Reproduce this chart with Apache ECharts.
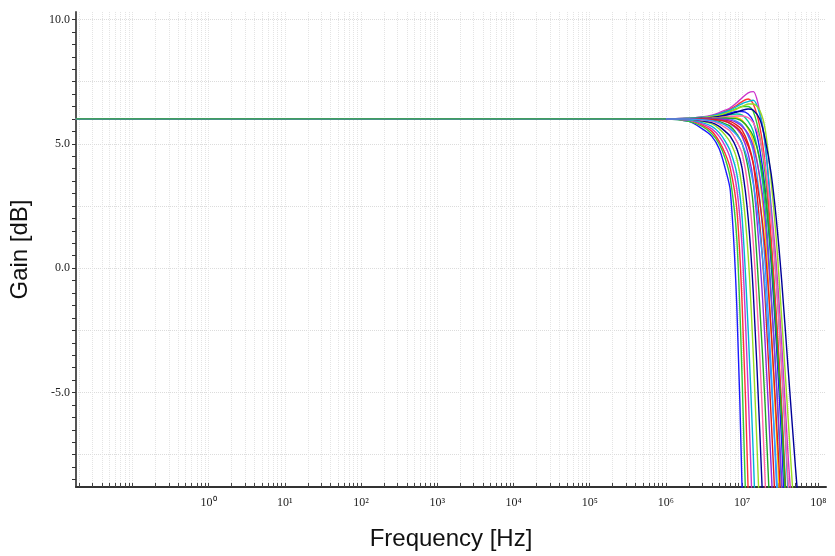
<!DOCTYPE html>
<html>
<head>
<meta charset="UTF-8">
<script src="https://cdn.jsdelivr.net/npm/echarts@6/dist/echarts.min.js"></script>
<style>
  html, body { margin: 0; padding: 0; background: #fff; }
  #main { width: 835px; height: 556px; }
</style>
</head>
<body>
<div id="main"></div>
<script>
// shared frequency points [Hz]
var freqs = [0.018, 1e6, 2e6, 3e6, 4e6, 5e6, 6e6, 7e6, 8.5e6, 1e7, 1.2e7, 1.4e7, 1.7e7, 2e7, 2.4e7, 2.8e7, 3.3e7, 4e7, 5e7, 6e7];

// gain curves [dB] (tail below the plot is clipped)
var curves = [
  [6,6,5.9,5.6,5.3,4.8,4.0,3.1,-1.5,-9,-20],
  [6,6,5.9,5.7,5.4,5.0,4.4,3.6,1.2,-4.5,-13,-20],
  [6,6,5.95,5.75,5.5,5.1,4.6,4.0,2.4,-1.5,-9,-20],
  [6,6,5.95,5.8,5.6,5.3,4.9,4.4,3.2,0.8,-5,-11,-20],
  [6,6,5.97,5.85,5.7,5.45,5.1,4.7,3.8,2.0,-2.5,-7.5,-15,-20],
  [6,6,6,5.9,5.8,5.6,5.35,5.05,4.4,3.2,0.5,-3.5,-10,-16,-20],
  [6,6,6,5.92,5.85,5.7,5.5,5.3,4.8,4.0,2.0,-1,-6.5,-12,-20],
  [6,6,6,5.95,5.9,5.8,5.65,5.5,5.1,4.6,3.2,1.0,-3.5,-8.5,-15,-20],
  [6,6,6,6,5.95,5.9,5.8,5.7,5.4,5.0,4.0,2.5,-1.5,-5.5,-11,-16,-20],
  [6,6,6,6,6,5.95,5.9,5.8,5.6,5.3,4.6,3.5,0.5,-3,-8,-13,-20],
  [6,6,6,6,6,6,5.95,5.9,5.75,5.55,5.0,4.2,1.8,-1.2,-6,-10.5,-16,-20],
  [6,6,6,6,6.02,6.03,6.03,6.0,5.9,5.75,5.3,4.7,2.8,0.2,-4,-8.5,-13,-20],
  [6,6,6,6.02,6.05,6.08,6.1,6.1,6.05,5.95,5.6,5.1,3.6,1.5,-2.5,-6.5,-11,-17,-20],
  [6,6,6,6.02,6.05,6.1,6.15,6.18,6.2,6.15,5.9,5.5,4.3,2.5,-1,-4.5,-9,-15,-20],
  [6,6,6.02,6.05,6.1,6.15,6.2,6.25,6.3,6.3,6.2,5.9,4.8,3.2,0.2,-3,-7,-13,-20],
  [6,6,6.02,6.05,6.1,6.18,6.25,6.32,6.42,6.5,6.5,6.3,5.3,3.8,0.8,-2.2,-6,-12,-20],
  [6,6,6.03,6.07,6.12,6.2,6.3,6.4,6.55,6.7,6.8,6.6,5.7,4.2,1.2,-1.8,-5.5,-11,-18,-20],
  [6,6,6.03,6.08,6.15,6.25,6.35,6.45,6.65,6.85,7.05,7.1,6.3,5.0,2.5,0.2,-3,-7.5,-12,-20],
  [6,6,6.03,6.07,6.12,6.2,6.28,6.36,6.5,6.62,6.7,6.75,6.2,5.0,2.2,-0.5,-4,-9,-16,-20],
  [6,6,6.02,6.05,6.1,6.15,6.22,6.3,6.4,6.5,6.6,6.6,6.35,5.6,3.5,1.2,-2,-6,-10.5,-13],
  [6,6,6.01,6.03,6.06,6.1,6.15,6.2,6.28,6.35,6.4,6.35,6.0,5.2,3.8,2.0,-0.5,-4,-8,-11],
  [6,6,6,6.02,6.04,6.06,6.08,6.1,6.12,6.12,6.05,5.85,5.2,4.1,2.0,-0.5,-4,-8.5,-14,-20],
  [6,6,6,6,6.02,6.03,6.04,6.03,6.0,5.9,5.65,5.3,4.4,3.0,0.5,-2.5,-6,-11,-17,-20],
  [6,6,6,6,6,6,5.98,5.95,5.85,5.7,5.4,4.9,3.7,2.0,-1.2,-4.5,-8.5,-14,-20],
  [6,6,6,6,5.98,5.95,5.9,5.82,5.65,5.4,4.9,4.2,2.7,0.8,-2.5,-6,-10,-16,-20],
  [6,6,6,5.97,5.93,5.85,5.75,5.6,5.35,5.0,4.3,3.4,1.5,-0.8,-4.5,-8,-12.5,-20]
];

var colors = ['#1a1aff', '#33cc33', '#ff3333', '#cc33cc', '#00b4d8', '#99dd22', '#000099', '#ff66aa',
              '#22aa22', '#8a2be2', '#e41a1c', '#3399ff', '#ffcc00', '#00cc99'];

var xDecades = [0, 1, 2, 3, 4, 5, 6, 7, 8];
var yLabels = [-5, 0, 5, 10];

var minorX = [];
for (var d = -2; d <= 8; d++) {
  for (var k = 1; k < 10; k++) {
    var v = d + Math.log10(k);
    if (v >= -1.74 && v <= 8.1) minorX.push(v);
  }
}
var yTicks = [];
for (var t = -8.5; t <= 10.01; t += 0.5) yTicks.push(t);
var yGrid = [];
for (var g = -7.5; g <= 10.01; g += 2.5) yGrid.push(g);

var sup = { '0': '⁰', '1': '¹', '2': '²', '3': '³', '4': '⁴', '5': '⁵', '6': '⁶', '7': '⁷', '8': '⁸' };

var series = curves.map(function (c, i) {
  return {
    type: 'line',
    symbol: 'none',
    smooth: 0.3,
    lineStyle: { width: 1.4, color: colors[i % colors.length] },
    data: freqs.map(function (f, j) { return [Math.log10(f), j < c.length ? c[j] : -20]; })
  };
});
// flat green trace drawn on top
series.push({
  type: 'line', symbol: 'none',
  lineStyle: { width: 1.2, color: '#3aa83a' },
  data: [[Math.log10(freqs[0]), 6], [Math.log10(1e6), 6]]
});

var chart = echarts.init(document.getElementById('main'));
chart.setOption({
  animation: false,
  grid: { left: 68, right: 9, top: 12, bottom: 66 },
  xAxis: [{
    type: 'value', min: -1.74, max: 8.1,
    name: 'Frequency [Hz]', nameLocation: 'middle', nameGap: 40,
    nameTextStyle: { fontSize: 24, fontFamily: 'Liberation Sans', color: '#111' },
    axisLine: { onZero: false, lineStyle: { color: '#333', width: 2 } },
    axisTick: { inside: true, length: 4, customValues: minorX, lineStyle: { color: '#444' } },
    axisLabel: {
      customValues: xDecades, fontFamily: 'Liberation Serif', fontSize: 12, color: '#222', margin: 10,
      formatter: function (v) { return '10' + sup[String(Math.round(v))]; }
    },
    splitLine: { show: true, lineStyle: { color: '#e4e4e4', type: 'dotted', width: 1 } }
  }],
  yAxis: [{
    type: 'value', min: -8.8, max: 10.3,
    name: 'Gain [dB]', nameLocation: 'middle', nameGap: 44,
    nameTextStyle: { fontSize: 24, fontFamily: 'Liberation Sans', color: '#111' },
    axisLine: { show: true, onZero: false, lineStyle: { color: '#555', width: 2 } },
    axisTick: { length: 4, customValues: yTicks, lineStyle: { color: '#333' } },
    axisLabel: {
      customValues: yLabels, fontFamily: 'Liberation Serif', fontSize: 12, color: '#222', margin: 6,
      formatter: function (v) { return v.toFixed(1); }
    },
    splitLine: { show: false }
  }, {
    type: 'value', min: -8.8, max: 10.3, position: 'left',
    axisLine: { show: false, onZero: false }, axisLabel: { show: false },
    axisTick: { show: false, customValues: yGrid },
    splitLine: { show: true, lineStyle: { color: '#dcdcdc', type: 'dotted', width: 1 } }
  }],
  series: series
});
</script>
</body>
</html>
